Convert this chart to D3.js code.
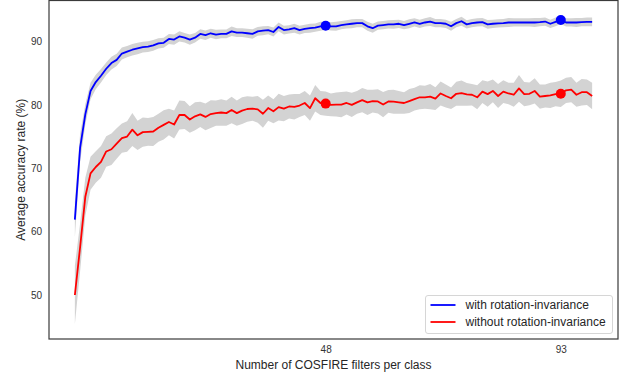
<!DOCTYPE html>
<html>
<head>
<meta charset="utf-8">
<script src="https://cdn.jsdelivr.net/npm/d3@7"></script>
<style>
  html, body { margin: 0; padding: 0; background: #fff; }
  svg { display: block; font-family: "Liberation Sans", Arial, sans-serif; }
</style>
</head>
<body>
<svg id="chart" width="631" height="380"></svg>
<script>
// Mean accuracy (%) per number of COSFIRE filters (index 0..99)
const withRot = [61.9, 73.2, 78.5, 82.2, 83.6, 84.6, 85.7, 86.6, 87.1, 88.1,
  88.4, 88.7, 88.9, 89.1, 89.2, 89.4, 89.7, 89.8, 90.4, 90.3,
  90.8, 90.6, 90.3, 90.6, 91.2, 91.0, 91.3, 91.1, 91.2, 91.2,
  91.6, 91.4, 91.4, 91.3, 91.2, 91.6, 91.7, 91.8, 91.5, 92.3,
  91.8, 91.9, 92.1, 91.8, 92.0, 92.1, 92.2, 92.4, 92.5, 92.4,
  92.4, 92.6, 92.7, 92.8, 92.9, 92.9, 92.4, 92.1, 92.5, 92.6,
  92.7, 92.7, 92.8, 92.6, 92.8, 93.0, 92.8, 93.0, 93.15, 92.9,
  92.9, 92.8, 92.4, 92.9, 93.2, 92.7, 92.9, 93.0, 93.05, 92.7,
  92.8, 92.85, 92.9, 93.0, 93.0, 93.0, 93.0, 93.0, 93.0, 93.05,
  93.15, 92.8, 93.1, 93.4, 93.0, 93.0, 93.0, 93.05, 93.1, 93.1];

const withoutRot = [50.0, 57.5, 65.5, 69.2, 70.2, 71.0, 72.65, 73.0, 73.9, 74.75,
  75.0, 76.1, 75.2, 75.7, 75.75, 75.8, 76.4, 76.85, 77.3, 76.9,
  78.4, 78.4, 77.7, 78.2, 78.5, 78.1, 78.55, 78.7, 78.8, 78.7,
  79.2, 78.7, 79.1, 79.35, 79.4, 79.3, 78.6, 79.5, 79.0, 79.65,
  79.4, 79.75, 79.7, 79.9, 80.3, 79.5, 81.05, 80.3, 80.2, 80.0,
  80.05, 80.05, 80.3, 80.0, 80.4, 80.75, 80.4, 80.6, 80.55, 80.05,
  80.55, 80.5, 80.4, 80.3, 80.6, 80.9, 81.2, 81.2, 81.3, 81.0,
  81.8, 81.4, 81.05, 81.75, 81.85, 81.65, 81.6, 81.2, 82.1, 81.7,
  82.2, 81.4, 82.1, 81.8, 81.6, 82.6, 81.7, 81.75, 82.2, 81.3,
  81.4, 81.5, 81.7, 81.75, 82.3, 82.4, 81.6, 82.0, 82.0, 81.4];

// Standard deviation around each mean
const withRotStd = [2.8, 2.2, 1.6, 1.3, 1.15, 1.05, 1.0, 1.0, 0.95, 0.95,
  0.9, 0.9, 0.9, 0.85, 0.85, 0.85, 0.8, 0.8, 0.8, 0.8,
  0.8, 0.75, 0.8, 0.75, 0.75, 0.75, 0.7, 0.75, 0.7, 0.7,
  0.75, 0.7, 0.7, 0.7, 0.75, 0.7, 0.7, 0.65, 0.7, 0.7,
  0.7, 0.65, 0.7, 0.7, 0.65, 0.7, 0.65, 0.7, 0.65, 0.65,
  0.7, 0.65, 0.65, 0.7, 0.65, 0.65, 0.7, 0.7, 0.65, 0.65,
  0.65, 0.7, 0.65, 0.65, 0.7, 0.65, 0.65, 0.65, 0.7, 0.65,
  0.65, 0.65, 0.7, 0.65, 0.7, 0.65, 0.65, 0.65, 0.65, 0.7,
  0.65, 0.65, 0.65, 0.7, 0.65, 0.65, 0.65, 0.65, 0.7, 0.65,
  0.65, 0.65, 0.7, 0.65, 0.65, 0.65, 0.7, 0.65, 0.7, 0.7];

const withoutRotStd = [4.6, 3.8, 3.0, 2.6, 2.5, 2.5, 2.4, 2.5, 2.4, 2.3,
  2.4, 2.6, 2.3, 2.3, 2.2, 2.3, 2.2, 2.3, 2.1, 2.2,
  2.3, 2.2, 2.1, 2.2, 2.0, 2.1, 2.2, 2.0, 2.1, 2.0,
  2.1, 2.0, 2.1, 2.0, 1.9, 2.1, 2.2, 2.0, 1.9, 2.1,
  2.0, 1.9, 2.0, 1.8, 1.9, 2.0, 2.1, 1.9, 1.9, 1.8,
  1.9, 2.0, 1.8, 1.9, 1.8, 1.9, 2.0, 1.8, 1.9, 2.0,
  1.8, 1.9, 1.8, 1.7, 1.9, 1.8, 1.9, 1.8, 2.0, 1.8,
  1.9, 1.8, 1.7, 1.9, 2.0, 1.8, 1.7, 1.9, 1.8, 2.0,
  1.8, 1.9, 1.8, 1.7, 1.9, 2.1, 1.9, 1.8, 2.0, 1.9,
  1.8, 2.0, 1.9, 2.1, 2.0, 2.0, 1.9, 2.1, 2.0, 2.1];

const highlightIdx = [48, 93];
const xTickValues = [48, 93];
const xTickLabels = ["48", "93"];
const yTickValues = [50, 60, 70, 80, 90];
const seriesNames = ["with rotation-invariance", "without rotation-invariance"];
const seriesColors = ["#0000ff", "#ff0000"];

const svg = d3.select("#chart");
const plot = { left: 49, right: 618, top: 0.5, bottom: 339 };

const x = d3.scaleLinear().domain([-4.95, 103.95]).range([plot.left, plot.right]);
const y = d3.scaleLinear().domain([43.06, 96.47]).range([plot.bottom, plot.top]);

const series = [
  { name: seriesNames[0], color: seriesColors[0], mean: withRot, std: withRotStd },
  { name: seriesNames[1], color: seriesColors[1], mean: withoutRot, std: withoutRotStd }
];

const g = svg.append("g");

// shaded ±std bands
const area = d3.area()
  .x((d, i) => x(i))
  .y0(d => y(d.lo))
  .y1(d => y(d.hi));

series.forEach(s => {
  const band = s.mean.map((m, i) => ({ lo: m - s.std[i], hi: m + s.std[i] }));
  g.append("path")
    .datum(band)
    .attr("d", area)
    .attr("fill", "#d3d3d3")
    .attr("stroke", "none");
});

// mean curves
const line = d3.line().x((d, i) => x(i)).y(d => y(d));
series.forEach(s => {
  g.append("path")
    .datum(s.mean)
    .attr("d", line)
    .attr("fill", "none")
    .attr("stroke", s.color)
    .attr("stroke-width", 1.8)
    .attr("stroke-linejoin", "round");
});

// highlighted points
series.forEach(s => {
  g.selectAll(null)
    .data(highlightIdx)
    .enter().append("circle")
    .attr("cx", i => x(i))
    .attr("cy", i => y(s.mean[i]))
    .attr("r", 5)
    .attr("fill", s.color);
});

// frame
svg.append("rect")
  .attr("x", plot.left)
  .attr("y", plot.top)
  .attr("width", plot.right - plot.left)
  .attr("height", plot.bottom - plot.top)
  .attr("fill", "none")
  .attr("stroke", "#3a3a3a")
  .attr("stroke-width", 1.2);

// y axis (no tick marks, labels only)
const yAxis = d3.axisLeft(y).tickValues(yTickValues).tickSize(0).tickPadding(7);
const yG = svg.append("g").attr("transform", `translate(${plot.left},0)`).call(yAxis);
yG.select(".domain").remove();
yG.selectAll("text").attr("font-size", 10).attr("fill", "#333").attr("font-family", "Liberation Sans, Arial, sans-serif");

// x axis
const xAxis = d3.axisBottom(x).tickValues(xTickValues).tickFormat((d, i) => xTickLabels[i]).tickSize(0).tickPadding(7);
const xG = svg.append("g").attr("transform", `translate(0,${plot.bottom})`).call(xAxis);
xG.select(".domain").remove();
xG.selectAll("text").attr("font-size", 10).attr("fill", "#333").attr("font-family", "Liberation Sans, Arial, sans-serif");

// axis titles
svg.append("text")
  .attr("x", (plot.left + plot.right) / 2)
  .attr("y", 369)
  .attr("text-anchor", "middle")
  .attr("font-size", 12)
  .attr("fill", "#262626")
  .text("Number of COSFIRE filters per class");

svg.append("text")
  .attr("transform", `translate(25,${(plot.top + plot.bottom) / 2}) rotate(-90)`)
  .attr("text-anchor", "middle")
  .attr("font-size", 12)
  .attr("fill", "#262626")
  .text("Average accuracy rate (%)");

// legend
const lg = svg.append("g").attr("transform", "translate(425.5,295.5)");
lg.append("rect")
  .attr("width", 187)
  .attr("height", 38)
  .attr("rx", 2.5)
  .attr("fill", "#fff")
  .attr("fill-opacity", 0.85)
  .attr("stroke", "#cccccc")
  .attr("stroke-width", 0.8);
series.forEach((s, k) => {
  const yy = 9.5 + k * 17;
  lg.append("line")
    .attr("x1", 5).attr("x2", 30)
    .attr("y1", yy).attr("y2", yy)
    .attr("stroke", s.color)
    .attr("stroke-width", 1.8);
  lg.append("text")
    .attr("x", 40)
    .attr("y", yy)
    .attr("dy", "0.35em")
    .attr("font-size", 12)
    .attr("fill", "#262626")
    .text(s.name);
});
</script>
</body>
</html>
